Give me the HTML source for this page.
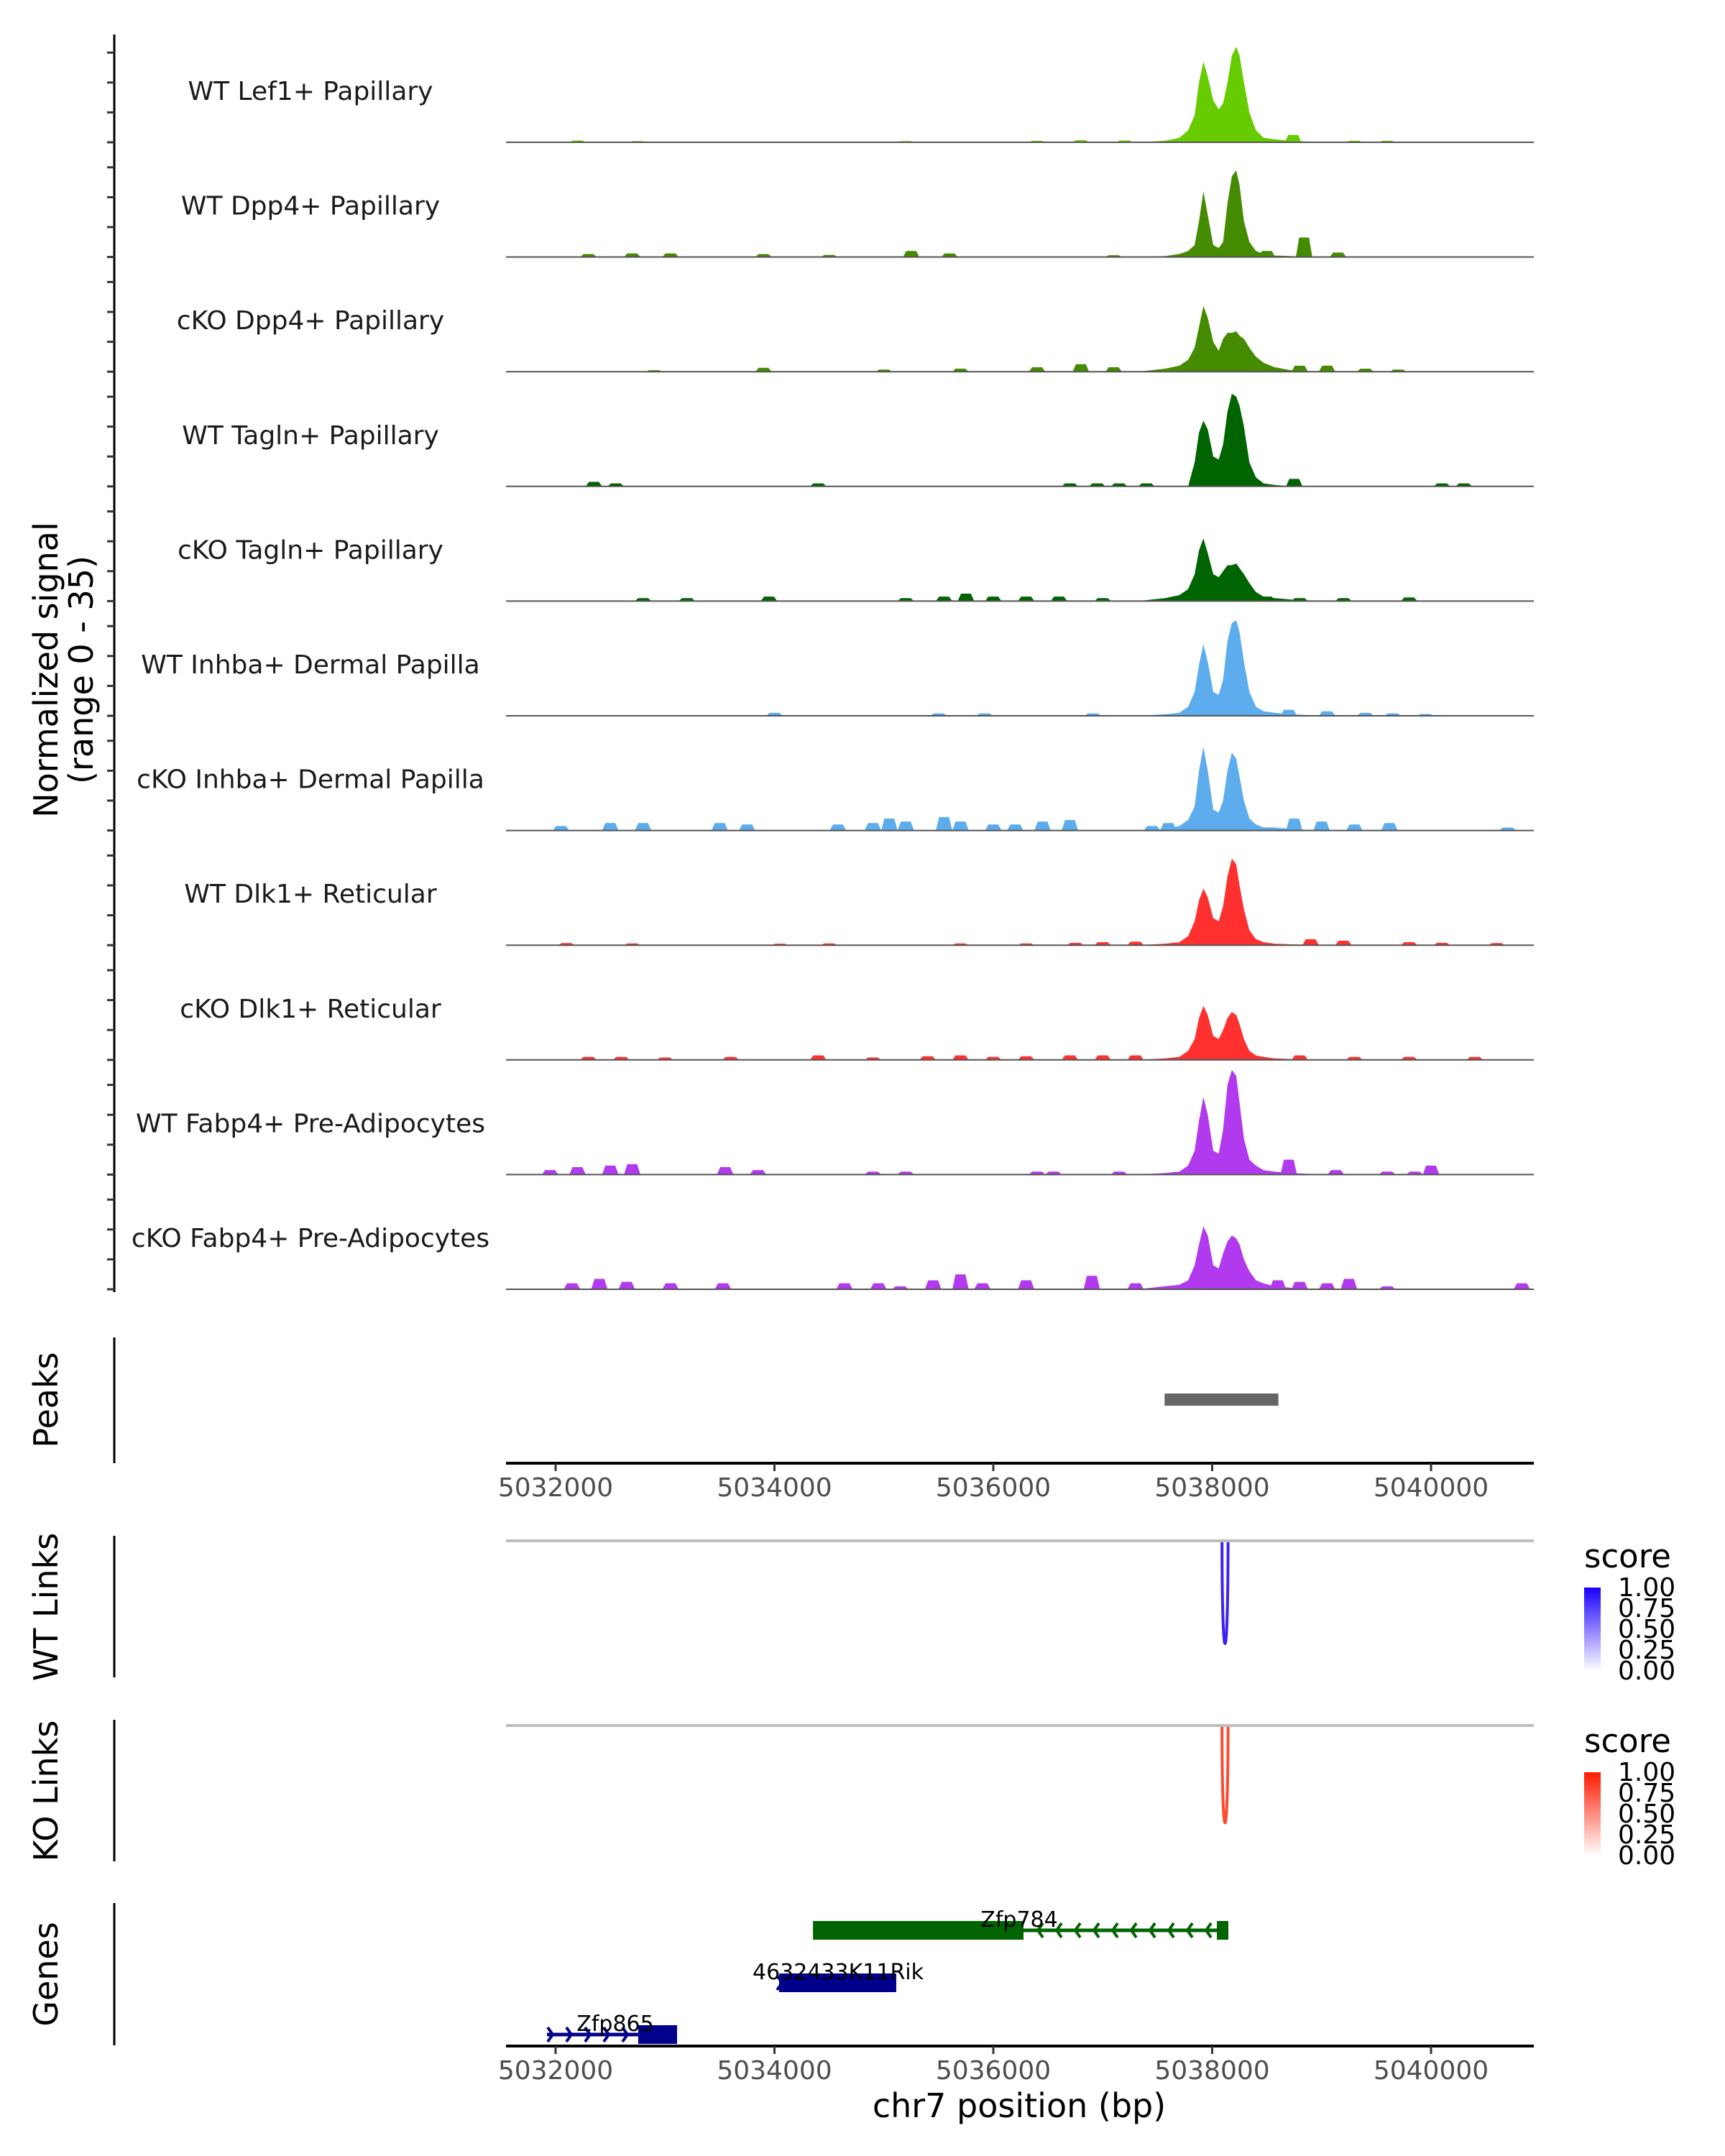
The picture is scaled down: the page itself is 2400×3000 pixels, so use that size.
<!DOCTYPE html>
<html><head><meta charset="utf-8"><style>
html,body{margin:0;padding:0;background:#fff}
svg{display:block;font-family:"DejaVu Sans","Liberation Sans",sans-serif}
</style></head><body>
<svg id="chart" width="2400" height="3000" viewBox="0 0 2400 3000" xmlns="http://www.w3.org/2000/svg">
<rect width="2400" height="3000" fill="#fff"/>
<g id="tracks"></g>
<line x1="159" y1="48" x2="159" y2="1798" stroke="#000" stroke-width="3"/>
<g id="yticks"></g>
<text transform="translate(80,932) rotate(-90)" text-anchor="middle" font-size="46">Normalized signal</text>
<text transform="translate(129,932) rotate(-90)" text-anchor="middle" font-size="46">(range 0 - 35)</text>

<line x1="159" y1="1861" x2="159" y2="2036" stroke="#000" stroke-width="3"/>
<text transform="translate(80,1948) rotate(-90)" text-anchor="middle" font-size="46">Peaks</text>
<g id="peaks"></g>
<g id="axis1"></g>

<line x1="159" y1="2137" x2="159" y2="2334" stroke="#000" stroke-width="3"/>
<text transform="translate(80,2236) rotate(-90)" text-anchor="middle" font-size="46">WT Links</text>
<line x1="704" y1="2144" x2="2134" y2="2144" stroke="#bebebe" stroke-width="4"/>
<g id="wtlinks"></g>

<line x1="159" y1="2393" x2="159" y2="2590" stroke="#000" stroke-width="3"/>
<text transform="translate(80,2492) rotate(-90)" text-anchor="middle" font-size="46">KO Links</text>
<line x1="704" y1="2401" x2="2134" y2="2401" stroke="#bebebe" stroke-width="4"/>
<g id="kolinks"></g>

<defs>
<linearGradient id="gb" x1="0" y1="1" x2="0" y2="0"><stop offset="0" stop-color="#fff"/><stop offset="1" stop-color="#1a00ff"/></linearGradient>
<linearGradient id="gr" x1="0" y1="1" x2="0" y2="0"><stop offset="0" stop-color="#fff"/><stop offset="1" stop-color="#ff1a00"/></linearGradient>
</defs>
<g>
<text x="2204" y="2181" font-size="45">score</text>
<rect x="2204" y="2209" width="23" height="116" fill="url(#gb)"/>
<g font-size="36" fill="#000"><text x="2251" y="2221">1.00</text><text x="2251" y="2250">0.75</text><text x="2251" y="2279">0.50</text><text x="2251" y="2308">0.25</text><text x="2251" y="2337">0.00</text></g>
</g>
<g>
<text x="2204" y="2438" font-size="45">score</text>
<rect x="2204" y="2466" width="23" height="116" fill="url(#gr)"/>
<g font-size="36" fill="#000"><text x="2251" y="2478">1.00</text><text x="2251" y="2507">0.75</text><text x="2251" y="2536">0.50</text><text x="2251" y="2565">0.25</text><text x="2251" y="2594">0.00</text></g>
</g>

<line x1="159" y1="2648" x2="159" y2="2846" stroke="#000" stroke-width="3"/>
<text transform="translate(80,2747) rotate(-90)" text-anchor="middle" font-size="46">Genes</text>
<g id="genes"></g>
<g id="axis2"></g>
<text x="1418" y="2946" text-anchor="middle" font-size="46">chr7 position (bp)</text>
</svg>
<script>
const NS="http://www.w3.org/2000/svg";
const trackNames=["WT Lef1+ Papillary","WT Dpp4+ Papillary","cKO Dpp4+ Papillary","WT Tagln+ Papillary","cKO Tagln+ Papillary","WT Inhba+ Dermal Papilla","cKO Inhba+ Dermal Papilla","WT Dlk1+ Reticular","cKO Dlk1+ Reticular","WT Fabp4+ Pre-Adipocytes","cKO Fabp4+ Pre-Adipocytes"];
const trackColors=["#66cc00","#458b00","#458b00","#006400","#006400","#5cacee","#5cacee","#ff3030","#ff3030","#b23aee","#b23aee"];
const peakPositions=[5037320,5037570,5037700,5037780,5037840,5037880,5037920,5037960,5038010,5038060,5038100,5038140,5038180,5038220,5038250,5038290,5038340,5038400,5038470,5038570,5038720,5039020];
const sigLef1WT=[0,0.5,1.5,4,9,20,27,22,14,11,13,20,29,32,29,20,10,4,1.5,1,0.5,0];
const sigDpp4WT=[0,0.3,1,2,4,12,22,14,4,3,5,18,27,29,24,12,5,2,1,0.5,0.3,0];
const sigDpp4KO=[0,1,2,4,8,15,22,18,10,7,11,13,13,13.5,12,11,8,5,3,1.5,0.5,0];
const sigTaglnWT=[0,0,0,0,8,18,22,19,10,9,14,25,31,30,27,20,8,3,1,0.5,0,0];
const sigTaglnKO=[0,1,2,4,9,17,21,16,9,8,10,12,12,12.6,11,9,6,3,1.5,1,0.5,0];
const sigInhbaWT=[0,0.5,1,3,8,17,24,18,8,7,12,25,31,32,28,18,8,3,1.5,1,0.5,0];
const sigInhbaKO=[0,0.5,1.5,3.5,8,20,28,20,7,6,10,20,26,24,18,10,4,2,1,1,0.5,0];
const sigDlk1WT=[0,0.5,1,3,8,15,19,16,9,8,13,23,29,27,20,12,5,2,1,0.5,0.3,0];
const sigDlk1KO=[0,0.5,1,3,7,14,18,15,8,7,10,14,16,15,12,7,3,1.5,1,0.5,0.3,0];
const sigFabp4WT=[0,0.5,1,3,8,18,26,20,8,7,15,30,35,33,24,12,5,3,1.5,1,0.5,0];
const sigFabp4KO=[0,1,1.5,3,8,15,21,18,8,7,12,16,18,17,15,10,6,3,2,1,0.5,0];
const blipLef1WT=[[5032200,0.6],[5032750,0.4],[5035200,0.4],[5036400,0.5],[5036800,0.7],[5037200,0.6],[5038740,2.5],[5039300,0.5],[5039600,0.5]];
const blipDpp4WT=[[5032300,1],[5032700,1.2],[5033050,1.2],[5033900,1],[5034500,0.7],[5035250,2],[5035600,1.2],[5037100,0.6],[5038500,2],[5038840,6.5],[5039150,1.5]];
const blipDpp4KO=[[5032900,0.5],[5033900,1.3],[5035000,0.7],[5035700,1],[5036400,1.5],[5036800,2.5],[5037100,1.5],[5038800,2],[5039050,2],[5039400,1],[5039700,0.7]];
const blipTaglnWT=[[5032350,1.5],[5032550,1],[5034400,1],[5036700,1],[5036950,1],[5037150,1],[5037400,1],[5038750,2.5],[5040100,1],[5040300,1]];
const blipTaglnKO=[[5032800,1],[5033200,1],[5033950,1.5],[5035200,1],[5035550,1.5],[5035750,2.5],[5036000,1.5],[5036300,1.5],[5036600,1.5],[5037000,1],[5038500,1.5],[5038800,1],[5039200,1],[5039800,1.2]];
const blipInhbaWT=[[5034000,1],[5035500,0.8],[5035920,0.8],[5036910,0.8],[5038700,2],[5039050,1.5],[5039400,1],[5039650,0.8],[5039950,0.6]];
const blipInhbaKO=[[5032050,1.5],[5032500,2.5],[5032800,2.5],[5033500,2.5],[5033750,2],[5034580,2],[5034900,2.5],[5035050,4],[5035200,3],[5035550,4.5],[5035700,3],[5036000,2],[5036200,2],[5036450,3],[5036700,3.5],[5037450,1.5],[5037600,2.5],[5038750,4],[5039000,3],[5039300,2],[5039620,2.5],[5040700,1]];
const blipDlk1WT=[[5032100,0.7],[5032700,0.6],[5034050,0.5],[5034500,0.6],[5035700,0.6],[5036300,0.6],[5036750,0.8],[5037000,1],[5037300,1.2],[5038900,2],[5039200,1.5],[5039800,1],[5040100,0.8],[5040600,0.7]];
const blipDlk1KO=[[5032300,1],[5032600,1],[5033000,0.8],[5033600,1],[5034400,1.5],[5034900,0.8],[5035400,1.2],[5035700,1.5],[5036000,1],[5036300,1.2],[5036700,1.5],[5037000,1.5],[5037300,1.5],[5038800,1.5],[5039300,1],[5039800,1],[5040400,1]];
const blipFabp4WT=[[5031950,1.5],[5032200,2.5],[5032500,3],[5032700,3.5],[5033550,2.5],[5033850,1.5],[5034900,1],[5035200,1],[5036400,1],[5036550,1],[5037150,1],[5038700,5],[5039130,1.5],[5039600,1],[5039850,1],[5040000,3]];
const blipFabp4KO=[[5032150,2],[5032400,3.5],[5032650,2.5],[5033050,2],[5033530,2],[5034640,2],[5034950,2],[5035150,1],[5035450,3],[5035700,5],[5035900,2],[5036300,3],[5036900,4.5],[5037300,2],[5038600,3],[5038800,2.5],[5039050,2],[5039250,3.5],[5039600,1],[5040830,2]];
const signals=[sigLef1WT,sigDpp4WT,sigDpp4KO,sigTaglnWT,sigTaglnKO,sigInhbaWT,sigInhbaKO,sigDlk1WT,sigDlk1KO,sigFabp4WT,sigFabp4KO];
const blips=[blipLef1WT,blipDpp4WT,blipDpp4KO,blipTaglnWT,blipTaglnKO,blipInhbaWT,blipInhbaKO,blipDlk1WT,blipDlk1KO,blipFabp4WT,blipFabp4KO];
const xTicks=[5032000,5034000,5036000,5038000,5040000];
const yTickValues=[0,10,20,30];
const peakRegions=[[5037565,5038605]];
const wtLinks=[[5038090,5038145,1.0]];
const koLinks=[[5038090,5038145,0.95]];
const geneNames=["Zfp784","4632433K11Rik","Zfp865"];
const geneStarts=[5034352,5034043,5031921];
const geneEnds=[5038148,5035113,5033110];
const geneCdsStarts=[5034352,5034043,5032755];
const geneCdsEnds=[5036276,5035113,5033110];
const geneStrands=["-","+","+"];

const X=bp=>773+(bp-5032000)*0.15225;
const base0=198, trackStep=159.6, pxPerUnit=145.6/35;
const Y=(i,v)=>base0+i*trackStep-v*pxPerUnit;
function el(tag,attrs,parent){const e=document.createElementNS(NS,tag);for(const k in attrs)e.setAttribute(k,attrs[k]);parent.appendChild(e);return e;}

const tg=document.getElementById('tracks');
const yt=document.getElementById('yticks');
signals.forEach((vals,i)=>{
  const g=el('g',{},tg);
  
  
  const bl=Y(i,0);
  const lab=el('text',{x:432,y:bl-59,'text-anchor':'middle','font-size':36,fill:'#1a1a1a'},g);
  lab.textContent=trackNames[i];
  
  
  let pts=peakPositions.map((p,j)=>X(p).toFixed(1)+','+Y(i,vals[j]).toFixed(1));
  const area=el('polygon',{points:X(peakPositions[0])+','+bl+' '+pts.join(' ')+' '+X(peakPositions[peakPositions.length-1])+','+bl,fill:trackColors[i]},g);
  
  
  blips[i].forEach(b=>{
    const p=el('polygon',{points:`${X(b[0]-75)},${bl} ${X(b[0]-45)},${Y(i,b[1])} ${X(b[0]+45)},${Y(i,b[1])} ${X(b[0]+75)},${bl}`,fill:trackColors[i]},g);
    
    
  });
  const ln=el('line',{x1:704,x2:2134,y1:bl,y2:bl,stroke:'#555',"stroke-width":2},g);
  
  
  yTickValues.forEach(v=>{
    const t=el('line',{x1:149,x2:159,y1:Y(i,v),y2:Y(i,v),stroke:'#333',"stroke-width":3},yt);
    
    
  });
});

const pk=document.getElementById('peaks');
peakRegions.forEach(r=>{
  const b=el('rect',{x:X(r[0]),y:1939,width:X(r[1])-X(r[0]),height:17,fill:'#666'},pk);
  
  
});

function axis(id,y){
  const g=document.getElementById(id);
  const l=el('line',{x1:704,x2:2134,y1:y,y2:y,stroke:'#000',"stroke-width":4},g);
  
  
  xTicks.forEach(t=>{
    const tk=el('line',{x1:X(t),x2:X(t),y1:y,y2:y+11,stroke:'#333',"stroke-width":3},g);
    
    
    const tx=el('text',{x:X(t),y:y+46,'text-anchor':'middle','font-size':36,fill:'#4d4d4d'},g);
    tx.textContent=t;
    
    
  });
}
axis('axis1',2036);
axis('axis2',2847);

function links(id,data,top,bottom,color){
  const g=document.getElementById(id);
  data.forEach(d=>{
    const x1=X(d[0]),x2=X(d[1]),depth=top+(bottom-top)*d[2];
    const p=el('path',{d:`M${x1},${top} C${x1},${depth+8} ${x2},${depth+8} ${x2},${top}`,fill:'none',stroke:color,"stroke-width":4},g);
    
    
  });
}
links('wtlinks',wtLinks,2146,2326,'#3d22f5');
links('kolinks',koLinks,2403,2582,'#ff4a2e');

const gg=document.getElementById('genes');
const geneY=[2686,2759,2831], geneCol=["#006400","#00008b","#00008b"];
geneNames.forEach((n,i)=>{
  const g=el('g',{},gg);
  
  
  const y=geneY[i],c=geneCol[i];
  el('line',{x1:X(geneStarts[i]),x2:X(geneEnds[i]),y1:y,y2:y,stroke:c,"stroke-width":5},g);
  el('rect',{x:X(geneCdsStarts[i]),y:y-13,width:X(geneCdsEnds[i])-X(geneCdsStarts[i]),height:26,fill:c},g);
  if(i===0){el('rect',{x:X(5038043),y:y-13,width:X(geneEnds[0])-X(5038043),height:26,fill:c},g);}
  const a0=X(geneStarts[i]),a1=X(geneCdsStarts[i]===geneStarts[i]?geneEnds[i]:geneCdsStarts[i]);
  let from=a0,to=a1;
  if(i===0){from=X(geneCdsEnds[0])+12;to=X(5038043)-5;}
  if(i===1){from=a0-4;to=a0+4;}
  for(let x=from+8;x<=to;x+=26){
    const d=geneStrands[i]==='-'?`M${x+7},${y-10} L${x},${y} L${x+7},${y+10}`:`M${x-7},${y-10} L${x},${y} L${x-7},${y+10}`;
    el('path',{d:d,fill:'none',stroke:c,"stroke-width":4},g);
  }
  const lx=[1418,1166,856][i];
  const t=el('text',{x:lx,y:y-5,'text-anchor':'middle','font-size':30,fill:'#000'},g);
  t.textContent=n;
  
  
});
</script>
</body></html>
